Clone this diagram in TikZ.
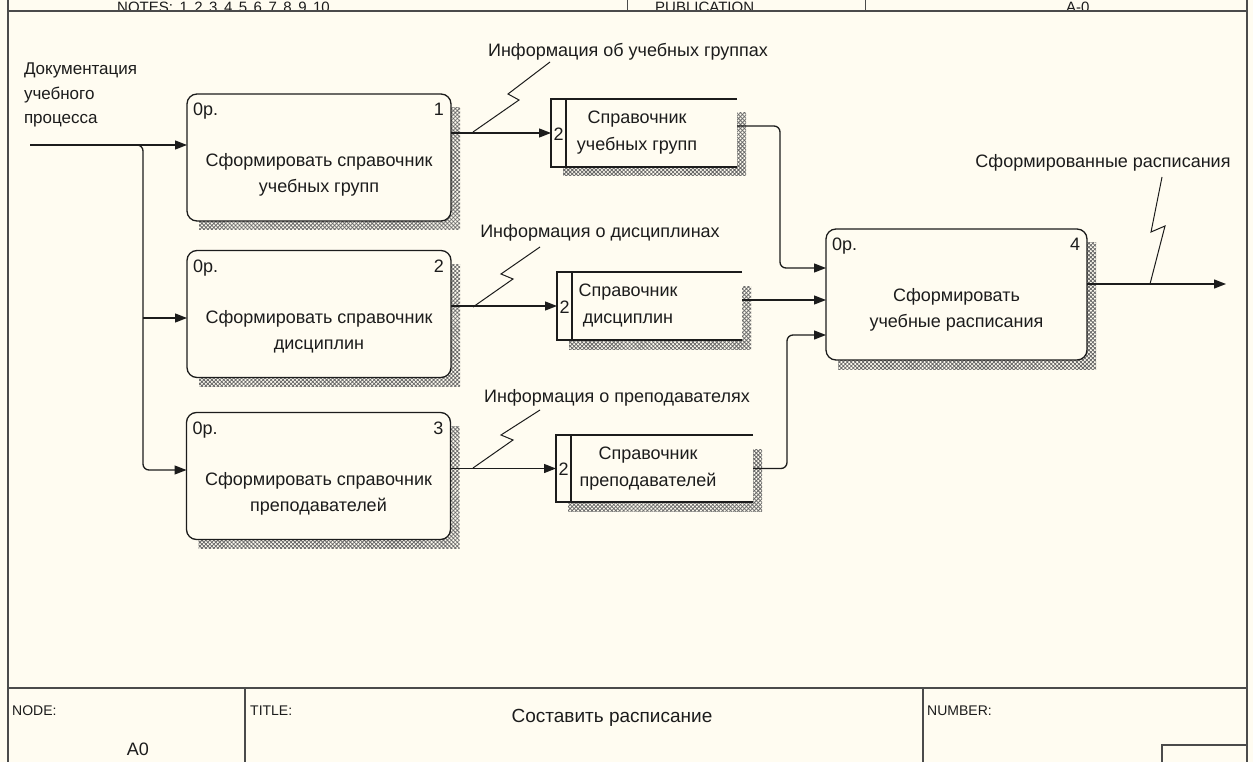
\documentclass[tikz,border=0pt]{standalone}
\usepackage{fontspec}
\setmainfont{Liberation Sans}
\usetikzlibrary{arrows.meta,patterns.meta,calc}
\definecolor{paper}{RGB}{255,252,241}
\definecolor{ink}{RGB}{28,28,28}
\definecolor{hatchc}{RGB}{105,105,105}
\definecolor{framec}{RGB}{75,75,75}
\pgfdeclarelayer{paperlayer}
\pgfdeclarelayer{shadowlayer}
\pgfsetlayers{paperlayer,shadowlayer,main}

\tikzset{
  txt/.style={font=\fontsize{18}{26}\selectfont, text=ink, inner sep=0pt, outer sep=0pt},
  small/.style={font=\fontsize{14}{17}\selectfont, text=ink, inner sep=0pt},
  actbox/.style={draw=ink, fill=paper, line width=1.3pt, rounded corners=10pt,
    inner sep=0pt, outer sep=0pt},
  storearea/.style={fill=paper, inner sep=0pt, outer sep=0pt},
  storeline/.style={draw=ink, line width=1.3pt},
  shade/.style={pattern={Hatch[angle=45,distance=2.8pt,line width=0.8pt]}, pattern color=hatchc},
  flow/.style={draw=ink, line width=1.3pt, rounded corners=6pt,
    -{Triangle[length=12pt,width=9pt]}},
  squig/.style={draw=ink, line width=1pt},
  frame/.style={draw=framec, line width=1.4pt},
}

% activity box: name, centre, width, height, number, caption
\newcommand\actbox[6]{%
  \node[actbox, minimum width=#3, minimum height=#4] (#1) at #2 {};
  \begin{pgfonlayer}{shadowlayer}
    \fill[shade] ($(#1.north west)+(12,14)$) rectangle ($(#1.south east)+(9,9)$);
  \end{pgfonlayer}
  \node[txt, anchor=north west] (#1-op) at ($(#1.north west)+(6,9)$) {0р.};
  \node[txt, anchor=north east] (#1-no) at ($(#1.north east)+(-7,9)$) {#5};
  \node[txt, align=center] (#1-cap) at ($(#1.north)+(0,81)$) {#6};
}

% data store: name, centre, width, height, text offset from left side, caption
\newcommand\store[6]{%
  \node[storearea, minimum width=#3, minimum height=#4] (#1) at #2 {};
  \begin{pgfonlayer}{shadowlayer}
    \fill[shade] ($(#1.north west)+(12,14)$) rectangle ($(#1.south east)+(9,9)$);
  \end{pgfonlayer}
  \draw[storeline] (#1.north east) -- (#1.north west) -- (#1.south west) -- (#1.south east);
  \draw[storeline] ($(#1.north west)+(15,0)$) -- ($(#1.south west)+(15,0)$);
  \node[txt] (#1-no) at ($(#1.west)+(7.5,1)$) {2};
  \node[txt, align=center, font=\fontsize{18}{27}\selectfont] (#1-cap) at ($(#1.west)+(#5,0)$) {#6};
}

\newcommand\gap{\hspace{6.5pt}}

\begin{document}
\begin{tikzpicture}[x=1pt, y=-1pt]
\useasboundingbox (0,0) rectangle (1253,762);
\begin{pgfonlayer}{paperlayer}
  \fill[paper] (0,0) rectangle (1253,762);
\end{pgfonlayer}

% ---- sheet frame ----
\begin{scope}
  \clip (0,0) rectangle (1253,11);
  \node[small, font=\fontsize{15}{18}\selectfont, anchor=base west] (notes) at (117,13) {NOTES:\gap 1\gap 2\gap 3\gap 4\gap 5\gap 6\gap 7\gap 8\gap 9\gap 10};
  \node[small, font=\fontsize{15}{18}\selectfont, anchor=base west] (pub) at (655,13) {PUBLICATION};
  \node[small, font=\fontsize{15}{18}\selectfont, anchor=base west] (ctx) at (1066,13) {A-0};
  \draw[frame, line width=1pt] (627,0) -- (627,11);
  \draw[frame, line width=1pt] (865,0) -- (865,11);
\end{scope}
\draw[frame, line width=2pt] (8,11) -- (1247,11);
\draw[frame] (8,0) -- (8,762);
\draw[frame] (1247,0) -- (1247,762);
\draw[frame] (8,688) -- (1247,688);
\draw[frame] (245,688) -- (245,762);
\draw[frame] (923,688) -- (923,762);
\draw[frame] (1162,762) -- (1162,745) -- (1247,745);
\node[small, anchor=north west] (nodelbl) at (12,706) {NODE:};
\node[txt, font=\fontsize{18}{20}\selectfont] (nodeid) at (138,749) {A0};
\node[small, anchor=north west] (titlelbl) at (250,706) {TITLE:};
\node[txt, font=\fontsize{19}{22}\selectfont] (title) at (612,718) {Составить расписание};
\node[small, anchor=north west] (numlbl) at (927,706) {NUMBER:};

% ---- activities ----
\actbox{b1}{(319,157.5)}{264}{127}{1}{Сформировать справочник\\учебных групп}
\actbox{b2}{(319,314)}{264}{127}{2}{Сформировать справочник\\дисциплин}
\actbox{b3}{(318.5,476)}{264}{127}{3}{Сформировать справочник\\преподавателей}
\actbox{b4}{(956.5,294.5)}{261}{131}{4}{Сформировать\\учебные расписания}

% ---- data stores ----
\store{s1}{(644,133)}{186}{68}{86}{Справочник\\учебных групп}
\store{s2}{(649.5,306)}{185}{68}{71}{Справочник\\дисциплин}
\store{s3}{(654.5,468.5)}{197}{67}{92}{Справочник\\преподавателей}

% ---- input and its branches ----
\node[txt, align=left, anchor=north west, font=\fontsize{17}{24.5}\selectfont] (inlbl) at (24,63) {Документация\\учебного\\процесса};
\coordinate (in) at (30,145);
\draw[flow] (in) -- (in -| b1.west);
\coordinate (br) at (134,145);
\coordinate (bx) at (143,145);
\coordinate (b3in) at ($(b3.west)+(0,-6)$);
\coordinate (b2in) at ($(b2.west)+(0,4)$);
\draw[flow] (br) -- (bx) -- (bx |- b3in) -- (b3in);
\draw[flow] (bx |- b2in) -- (b2in);

% ---- activity outputs to stores ----
\draw[flow] (b1.east |- s1.west) -- (s1.west);
\draw[flow] (b2.east |- s2.west) -- (s2.west);
\draw[flow] (b3.east |- s3.west) -- (s3.west);

% ---- stores to the scheduling activity ----
\coordinate (j1) at (780,268);
\coordinate (j3) at (787,335);
\draw[flow] ($(s1.east)+(0,-7)$) -| (j1) -- (j1 -| b4.west);
\draw[flow] ($(s2.east)+(0,-6)$) -- ($(b4.west)+(0,5.5)$);
\draw[flow] (s3.east) -| (j3) -- (j3 -| b4.west);

% ---- output ----
\coordinate (out) at (1226,284);
\draw[flow] ($(b4.east)+(0,-10.5)$) -- (out);

% ---- arrow labels ----
\node[txt] (l1) at (628,52) {Информация об учебных группах};
\node[txt] (l2) at (600,233) {Информация о дисциплинах};
\node[txt] (l3) at (617,398) {Информация о преподавателях};
\node[txt] (l4) at (1103,163) {Сформированные расписания};
\coordinate (k1) at (473,132);
\coordinate (k2) at (473,307);
\coordinate (k3) at (473,468);
\coordinate (k4) at (1150,284);
\draw[squig] (k1) -- (519,100) -- (508,94) -- (550,62);
\draw[squig] (k2) -- (513,279) -- (501,274) -- (540,247);
\draw[squig] (k3) -- (513,440) -- (501,435) -- (540,410);
\draw[squig] (k4) -- (1165,226) -- (1151,232) -- (1162,177);
\end{tikzpicture}
\end{document}
